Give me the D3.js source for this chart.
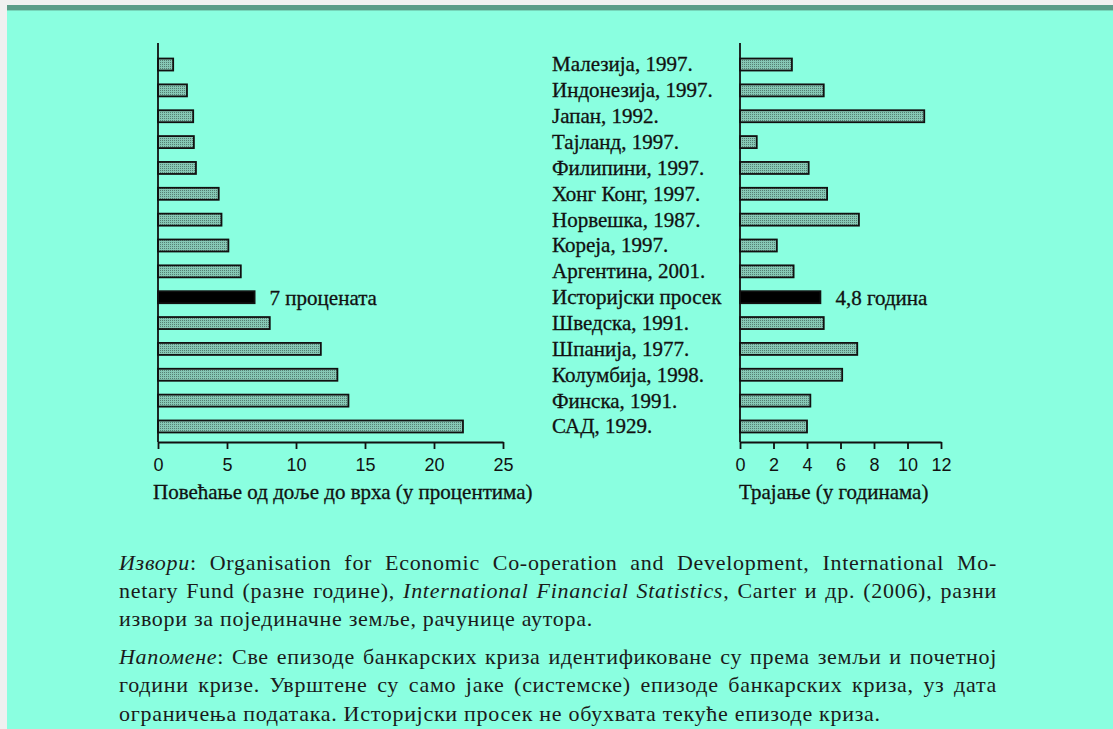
<!DOCTYPE html>
<html>
<head>
<meta charset="utf-8">
<script src="https://cdn.jsdelivr.net/npm/d3@7"></script>
<style>
  body { margin: 0; background: #f2f2f2; }
  svg { display: block; }
</style>
</head>
<body>
<div id="chart"></div>
<script>
// rows, top to bottom (same for both panels)
var countries = ["Малезија, 1997.", "Индонезија, 1997.", "Јапан, 1992.", "Тајланд, 1997.",
  "Филипини, 1997.", "Хонг Конг, 1997.", "Норвешка, 1987.", "Кореја, 1997.",
  "Аргентина, 2001.", "Историјски просек", "Шведска, 1991.", "Шпанија, 1977.",
  "Колумбија, 1998.", "Финска, 1991.", "САД, 1929."];
// left panel: increase from trough to peak (%)
var riseValues = [1.1, 2.1, 2.55, 2.6, 2.75, 4.4, 4.6, 5.1, 6.0, 7.0, 8.1, 11.8, 13.0, 13.8, 22.1];
// right panel: duration (years)
var durationValues = [3.1, 5.0, 11.0, 1.0, 4.1, 5.2, 7.1, 2.2, 3.2, 4.8, 5.0, 7.0, 6.1, 4.2, 4.0];
var averageIndex = 9;
var riseTicks = [0, 5, 10, 15, 20, 25];
var durationTicks = [0, 2, 4, 6, 8, 10, 12];
var riseNote = "7 процената";
var durationNote = "4,8 година";
var riseTitle = "Повећање од доље до врха (у процентима)";
var durationTitle = "Трајање (у годинама)";

var svgWidth = 1113, svgHeight = 729;
var serif = "'Liberation Serif', 'Times New Roman', serif";
var sans = "'Liberation Sans', Arial, sans-serif";

var svg = d3.select("#chart").append("svg")
  .attr("width", svgWidth)
  .attr("height", svgHeight);

// page frame: grey strip, dark band, mint page
svg.append("rect").attr("x", 0).attr("y", 0).attr("width", svgWidth).attr("height", svgHeight).attr("fill", "#f0f0f0");
svg.append("rect").attr("x", 7).attr("y", 5).attr("width", svgWidth - 7).attr("height", svgHeight - 5).attr("fill", "#8affe0");
svg.append("rect").attr("x", 7).attr("y", 5).attr("width", svgWidth - 7).attr("height", 5).attr("fill", "#5b9c88");
svg.append("rect").attr("x", 7).attr("y", 10).attr("width", svgWidth - 7).attr("height", 1).attr("fill", "#76d6ba");

// dotted fill for the bars
var defs = svg.append("defs");
var pat = defs.append("pattern").attr("id", "dots")
  .attr("width", 2).attr("height", 2).attr("patternUnits", "userSpaceOnUse");
pat.append("rect").attr("width", 2).attr("height", 2).attr("fill", "#86c8b5");
pat.append("rect").attr("width", 1).attr("height", 1).attr("fill", "#557f73");

var axisTop = 43, axisBottom = 442;
var y = d3.scaleBand()
  .domain(countries)
  .range([51.6, 439.4]);
var barH = 12;
var labelSize = "21px";

function panel(values, x, ticks, note, title, titleX) {
  var x0 = x.range()[0];
  var g = svg.append("g");

  g.selectAll("rect.bar")
    .data(values)
    .enter()
    .append("rect")
      .attr("class", "bar")
      .attr("x", x0)
      .attr("y", function (d, i) { return y(countries[i]) + y.bandwidth() / 2 - barH / 2; })
      .attr("width", function (d) { return x(d) - x0; })
      .attr("height", barH)
      .attr("fill", function (d, i) { return i === averageIndex ? "#000" : "url(#dots)"; })
      .attr("stroke", "#111")
      .attr("stroke-width", 1.8);

  // vertical axis line
  g.append("line")
    .attr("x1", x0).attr("x2", x0)
    .attr("y1", axisTop).attr("y2", axisBottom)
    .attr("stroke", "#111").attr("stroke-width", 1.8);

  var axis = g.append("g")
    .attr("transform", "translate(0," + axisBottom + ")")
    .call(d3.axisBottom(x).tickValues(ticks).tickSize(7).tickSizeOuter(0).tickPadding(9));
  axis.select(".domain").attr("stroke", "#111").attr("stroke-width", 1.8);
  axis.selectAll(".tick line").attr("stroke", "#111").attr("stroke-width", 1.8);
  axis.selectAll(".tick text")
    .attr("fill", "#111")
    .style("font-family", sans)
    .style("font-size", "18px");

  // note next to the average bar
  g.append("text")
    .attr("x", x(values[averageIndex]) + 15)
    .attr("y", y(countries[averageIndex]) + y.bandwidth() / 2)
    .attr("dy", "0.35em")
    .style("font-family", serif)
    .style("font-size", labelSize)
    .attr("fill", "#111")
    .attr("stroke", "#111").attr("stroke-width", 0.3)
    .text(note);

  g.append("text")
    .attr("x", titleX)
    .attr("y", 499)
    .style("font-family", serif)
    .style("font-size", labelSize)
    .attr("fill", "#111")
    .attr("stroke", "#111").attr("stroke-width", 0.3)
    .text(title);
}

var xRise = d3.scaleLinear().domain([0, 25]).range([158, 503]);
var xDur = d3.scaleLinear().domain([0, 12]).range([740, 941]);

panel(riseValues, xRise, riseTicks, riseNote, riseTitle, 153);
panel(durationValues, xDur, durationTicks, durationNote, durationTitle, 739);

// country labels between the panels
svg.append("g").selectAll("text")
  .data(countries)
  .enter()
  .append("text")
    .attr("x", 552)
    .attr("y", function (d) { return y(d) + y.bandwidth() / 2; })
    .attr("dy", "0.33em")
    .style("font-family", serif)
    .style("font-size", labelSize)
    .attr("fill", "#111")
    .attr("stroke", "#111").attr("stroke-width", 0.3)
    .text(function (d) { return d; });

// footnotes (justified lines get extra word spacing)
var noteLines = [
  { parts: [["Извори", true], [": Organisation for Economic Co-operation and Development, International Mo-", false]], justify: true },
  { parts: [["netary Fund (разне године), ", false], ["International Financial Statistics", true], [", Carter и др. (2006), разни", false]], justify: true },
  { parts: [["извори за појединачне земље, рачунице аутора.", false]], justify: false },
  { parts: [["Напомене", true], [": Све епизоде банкарских криза идентификоване су према земљи и почетној", false]], justify: true },
  { parts: [["години кризе. Уврштене су само јаке (системске) епизоде банкарских криза, уз дата", false]], justify: true },
  { parts: [["ограничења података. Историјски просек не обухвата текуће епизоде криза.", false]], justify: false }
];
var noteBaselines = [570, 598, 626, 664, 692, 721];
var noteLeft = 119, noteRight = 997, shortLineEnd = 593;

var fn = svg.append("g");
var lines = fn.selectAll("text")
  .data(noteLines)
  .enter()
  .append("text")
    .attr("x", noteLeft)
    .attr("y", function (d, i) { return noteBaselines[i]; })
    .style("font-family", serif)
    .style("font-size", "22px")
    .attr("fill", "#1a1a1a");
lines.each(function (d) {
  var t = d3.select(this);
  d.parts.forEach(function (p) {
    t.append("tspan").style("font-style", p[1] ? "italic" : "normal").text(p[0]);
  });
});
// widen letters a bit so line 3 matches the printed width
var ref = lines.filter(function (d, i) { return i === 2; });
var refText = ref.datum().parts[0][0];
var ls = (shortLineEnd - noteLeft - ref.node().getComputedTextLength()) / refText.length;
lines.style("letter-spacing", ls + "px");
lines.each(function (d) {
  if (!d.justify) return;
  var t = d3.select(this);
  var len = this.getComputedTextLength();
  var full = d.parts.map(function (p) { return p[0]; }).join("");
  var spaces = full.split(" ").length - 1;
  t.style("word-spacing", ((noteRight - noteLeft - len) / spaces) + "px");
});
</script>
</body>
</html>
